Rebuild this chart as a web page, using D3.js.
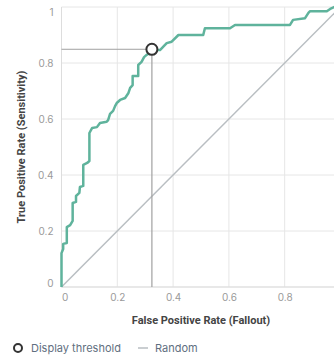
<!DOCTYPE html>
<html><head><meta charset="utf-8">
<script src="https://cdn.jsdelivr.net/npm/d3@7"></script>
<style>body{margin:0;background:#fff;}svg{display:block;font-family:Inter,"Noto Sans",sans-serif;}</style>
</head><body>
<svg id="c" width="334" height="358"></svg>
<script>
const fpr = [0,0,0.006,0.006,0.019,0.019,0.031,0.040,0.040,0.052,0.052,0.064,0.066,0.078,0.078,0.092,0.100,0.100,0.110,0.127,0.138,0.162,0.167,0.174,0.185,0.192,0.198,0.210,0.228,0.240,0.246,0.255,0.255,0.275,0.275,0.287,0.296,0.305,0.314,0.324,0.353,0.377,0.395,0.419,0.508,0.514,0.604,0.622,0.819,0.830,0.873,0.885,0.891,0.951,0.963,0.977,1];
const tpr = [0,0.121,0.136,0.154,0.157,0.214,0.221,0.236,0.300,0.304,0.325,0.336,0.357,0.361,0.436,0.443,0.450,0.550,0.568,0.571,0.586,0.590,0.596,0.618,0.629,0.646,0.657,0.668,0.675,0.693,0.711,0.721,0.754,0.754,0.793,0.804,0.821,0.829,0.834,0.846,0.846,0.871,0.876,0.900,0.900,0.924,0.924,0.936,0.936,0.954,0.960,0.979,0.985,0.985,0.993,1,1];
const randomX = [0,1];
const randomY = [0,1];
const threshold = {fpr:0.324, tpr:0.849};
const tickValues = [0,0.2,0.4,0.6,0.8,1];
const tickLabels = ["0","0.2","0.4","0.6","0.8","1"];
const xTickValues = [0,0.2,0.4,0.6,0.8];
const xTickLabels = ["0","0.2","0.4","0.6","0.8"];
const xTitle = "False Positive Rate (Fallout)";
const yTitle = "True Positive Rate (Sensitivity)";
const legendLabels = ["Display threshold","Random"];

const svg = d3.select("#c");
const x = d3.scaleLinear().domain([0,1]).range([61.5,340.5]);
const y = d3.scaleLinear().domain([0,1]).range([287,7]);

// grid
const g = svg.append("g");
g.selectAll(".gx").data(tickValues).join("line")
  .attr("x1",d=>x(d)).attr("x2",d=>x(d)).attr("y1",y(0)).attr("y2",y(1))
  .attr("stroke","#e6e6e6").attr("stroke-width",1);
g.selectAll(".gy").data(tickValues).join("line")
  .attr("x1",x(0)).attr("x2",x(1)).attr("y1",d=>y(d)).attr("y2",d=>y(d))
  .attr("stroke","#e6e6e6").attr("stroke-width",1);
g.append("line").attr("x1",x(0)).attr("x2",x(1)).attr("y1",y(0)).attr("y2",y(0)).attr("stroke","#ddd");
g.append("line").attr("x1",x(0)).attr("x2",x(0)).attr("y1",y(0)).attr("y2",y(1)).attr("stroke","#ddd");

// axes labels (flush)
const yAx = svg.append("g").attr("transform",`translate(${x(0)},0)`)
  .call(d3.axisLeft(y).tickValues(tickValues).tickFormat((d,i)=>tickLabels[i]).tickSize(0).tickPadding(8));
yAx.select(".domain").remove();
yAx.selectAll("text").attr("fill","#9a9a9a").style("font-size","10px").style("font-family","Inter,sans-serif")
  .attr("dy",(d,i)=> i===0 ? "-0.05em" : (i===tickValues.length-1 ? "0.85em" : "0.32em"));
const xAx = svg.append("g").attr("transform",`translate(0,${y(0)})`)
  .call(d3.axisBottom(x).tickValues(xTickValues).tickFormat((d,i)=>xTickLabels[i]).tickSize(0).tickPadding(7));
xAx.select(".domain").remove();
xAx.selectAll("text").attr("fill","#9a9a9a").style("font-size","10px").style("font-family","Inter,sans-serif")
  .attr("text-anchor",(d,i)=> i===0 ? "start" : "middle");

// random line
svg.append("path").datum(randomX.map((v,i)=>[v,randomY[i]]))
  .attr("d",d3.line().x(d=>x(d[0])).y(d=>y(d[1])))
  .attr("fill","none").attr("stroke","#b9bec2").attr("stroke-width",1.5);

// threshold lines
svg.append("line").attr("x1",x(0)).attr("x2",x(threshold.fpr)).attr("y1",y(threshold.tpr)).attr("y2",y(threshold.tpr))
  .attr("stroke","#a0a0a0").attr("stroke-width",1);
svg.append("line").attr("x1",x(threshold.fpr)).attr("x2",x(threshold.fpr)).attr("y1",y(threshold.tpr)).attr("y2",y(0))
  .attr("stroke","#a0a0a0").attr("stroke-width",1.2);

// ROC curve
svg.append("path").datum(fpr.map((v,i)=>[v,tpr[i]]))
  .attr("d",d3.line().x(d=>x(d[0])).y(d=>y(d[1])))
  .attr("fill","none").attr("stroke","#5fb39c").attr("stroke-width",2.5).attr("stroke-linejoin","round");

// threshold marker
svg.append("circle").attr("cx",x(threshold.fpr)).attr("cy",y(threshold.tpr)).attr("r",5.5)
  .attr("fill","#fff").attr("stroke","#333").attr("stroke-width",2);

// titles
svg.append("text").attr("x",(x(0)+x(1))/2).attr("y",324).attr("text-anchor","middle")
  .attr("fill","#444").style("font-size","11px").style("font-weight","bold").style("font-family","Roboto,sans-serif").text(xTitle);
svg.append("text").attr("transform",`translate(25,${(y(0)+y(1))/2}) rotate(-90)`).attr("text-anchor","middle")
  .attr("fill","#444").style("font-size","11px").style("font-weight","bold").style("font-family","Roboto,sans-serif").text(yTitle);

// legend
const lg = svg.append("g");
lg.append("circle").attr("cx",18).attr("cy",348).attr("r",4).attr("fill","#fff").attr("stroke","#333").attr("stroke-width",2);
lg.append("text").attr("x",31).attr("y",348).attr("dy","0.35em").attr("fill","#5f6f80").style("font-size","11px").text(legendLabels[0]);
lg.append("line").attr("x1",138).attr("x2",148).attr("y1",348).attr("y2",348).attr("stroke","#b9bec2").attr("stroke-width",1.5);
lg.append("text").attr("x",155).attr("y",348).attr("dy","0.35em").attr("fill","#5f6f80").style("font-size","11px").text(legendLabels[1]);
</script>
</body></html>
